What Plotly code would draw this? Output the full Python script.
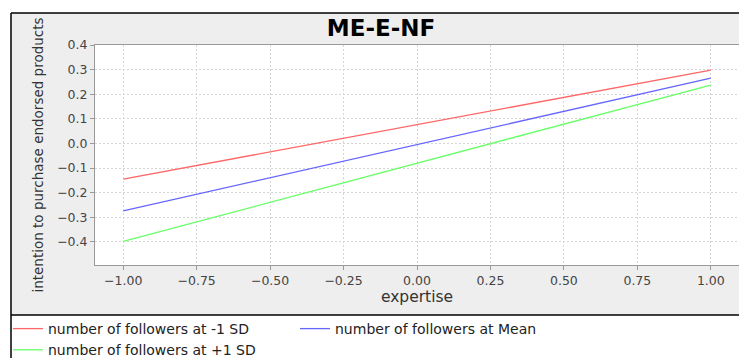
import plotly.graph_objects as go

# Data
expertise = [-1.0, 1.0]
series_names = ["number of followers at -1 SD", "number of followers at Mean", "number of followers at +1 SD"]
low_sd = [-0.145, 0.298]
mean_vals = [-0.274, 0.265]
high_sd = [-0.398, 0.237]
x_ticks = [-1.0, -0.75, -0.5, -0.25, 0.0, 0.25, 0.5, 0.75, 1.0]
y_ticks = [-0.4, -0.3, -0.2, -0.1, 0.0, 0.1, 0.2, 0.3, 0.4]

colors = ["#ff6666", "#6666ff", "#66ff66"]

W, H = 739, 358
L, R, T, B = 95, 739, 45, 265


def fx(px):
    return (px - L) / (R - L)


def fy(py):
    return (B - py) / (B - T)


fig = go.Figure()
for name, vals, c in zip(series_names, [low_sd, mean_vals, high_sd], colors):
    fig.add_trace(go.Scatter(x=expertise, y=vals, mode="lines", name=name,
                             line=dict(color=c, width=1.3)))

shapes = [
    # gray panel
    dict(type="rect", xref="paper", yref="paper", x0=fx(11), x1=fx(745), y0=fy(315), y1=fy(13),
         fillcolor="#eeeeee", line=dict(width=0), layer="below"),
    # white plot area
    dict(type="rect", xref="paper", yref="paper", x0=0, x1=1, y0=0, y1=1,
         fillcolor="white", line=dict(width=0), layer="below"),
    # black borders
    dict(type="line", xref="paper", yref="paper", x0=fx(11), x1=fx(745), y0=fy(13), y1=fy(13),
         line=dict(color="black", width=1.5)),
    dict(type="line", xref="paper", yref="paper", x0=fx(11), x1=fx(11), y0=fy(13), y1=fy(360),
         line=dict(color="black", width=1.5)),
    dict(type="line", xref="paper", yref="paper", x0=fx(11), x1=fx(745), y0=fy(315), y1=fy(315),
         line=dict(color="black", width=1.5)),
]

fig.update_layout(
    width=W, height=H,
    margin=dict(l=L, r=W - R, t=T, b=H - B, autoexpand=False),
    paper_bgcolor="white", plot_bgcolor="white",
    font=dict(family="DejaVu Sans", color="#333333"),
    title=dict(text="<b>ME-E-NF</b>", x=381 / W, xref="container", xanchor="center",
               y=1 - 28 / H, yanchor="middle",
               font=dict(size=23, color="black")),
    shapes=shapes,
    showlegend=True,
    legend=dict(orientation="h", x=fx(8), y=fy(313), xanchor="left", yanchor="top",
                font=dict(size=14, color="#222222"), bgcolor="rgba(0,0,0,0)",
                entrywidth=242, entrywidthmode="pixels", tracegroupgap=0,
                itemwidth=30),
)

fig.update_xaxes(range=[-1.096, 1.096], tickvals=x_ticks, tickformat=".2f",
                 showline=True, linecolor="#999999", linewidth=1, mirror=True,
                 ticks="outside", ticklen=4, tickcolor="#999999",
                 showgrid=True, gridcolor="#d6d6d6", griddash="2px,2px", gridwidth=1,
                 zeroline=False, tickfont=dict(size=12.5, color="#444444"),
                 automargin=False,
                 title=dict(text="expertise", font=dict(size=15.5, color="#333333"), standoff=4))
fig.update_yaxes(range=[-0.494, 0.4], tickvals=y_ticks, tickformat=".1f",
                 showline=True, linecolor="#999999", linewidth=1,
                 ticks="outside", ticklen=4, tickcolor="#999999",
                 showgrid=True, gridcolor="#d6d6d6", griddash="2px,2px", gridwidth=1,
                 zeroline=False, tickfont=dict(size=12.5, color="#444444"),
                 automargin=False,
                 title=dict(text="intention to purchase endorsed products",
                            font=dict(size=13.5, color="#333333"), standoff=10))

fig.write_html("out.html", config={"displayModeBar": False},
               post_script="document.body.style.margin='0px';document.body.style.overflow='hidden';")
